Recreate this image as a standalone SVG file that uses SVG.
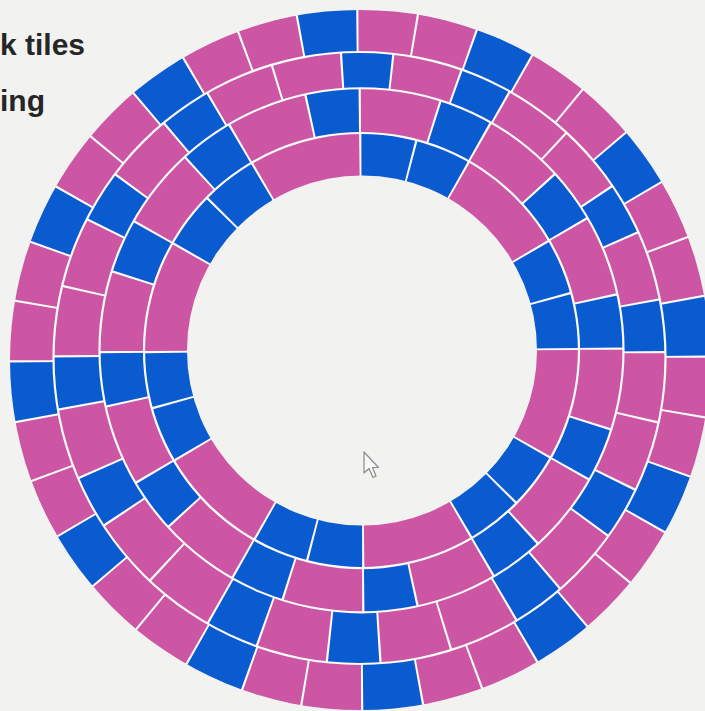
<svg xmlns="http://www.w3.org/2000/svg" width="705" height="711" viewBox="0 0 705 711">
<style>
.t{fill:none;stroke-width:60}
.p{stroke:#cc56a3}
.b{stroke:#0b5bd0}
.d4{stroke-dasharray:9.64 350.36}
.d3b{stroke-dasharray:9.58 350.42}
.d3p{stroke-dasharray:12.91 347.09}
.d2b{stroke-dasharray:11.5 348.5}
.d2p{stroke-dasharray:17.5 342.5}
.d1b{stroke-dasharray:14.4 345.6}
.d1p{stroke-dasharray:29.4 330.6}
.lbl{font-family:"Liberation Sans",Arial,sans-serif;font-weight:bold;font-size:30px;fill:#262626}
</style>
<defs>
<clipPath id="c1"><path clip-rule="evenodd" d="M145.1,350.5a216.4,216.4 0 1,0 432.8,0a216.4,216.4 0 1,0 -432.8,0Z M187,350.5a175,175 0 1,0 350,0a175,175 0 1,0 -350,0Z"/></clipPath>
<clipPath id="c2"><path clip-rule="evenodd" d="M100.6,350.3a260.9,260.9 0 1,0 521.8,0a260.9,260.9 0 1,0 -521.8,0Z M142.9,350.5a218.6,218.6 0 1,0 437.2,0a218.6,218.6 0 1,0 -437.2,0Z"/></clipPath>
<clipPath id="c3"><path clip-rule="evenodd" d="M54.6,358a304.9,304.9 0 1,0 609.8,0a304.9,304.9 0 1,0 -609.8,0Z M98.4,350.3a263.1,263.1 0 1,0 526.2,0a263.1,263.1 0 1,0 -526.2,0Z"/></clipPath>
<clipPath id="c4"><path clip-rule="evenodd" d="M10,360a350,350 0 1,0 700,0a350,350 0 1,0 -700,0Z M52.4,358a307.1,307.1 0 1,0 614.2,0a307.1,307.1 0 1,0 -614.2,0Z"/></clipPath>
</defs>
<rect width="705" height="711" fill="#f2f2f0"/>
<path id="grout" fill="#fbfbfb" fill-rule="evenodd" d="M10,360a350,350 0 1,0 700,0a350,350 0 1,0 -700,0Z M187,350.5a175,175 0 1,0 350,0a175,175 0 1,0 -350,0Z"/>

<g id="ring4" clip-path="url(#c4)">
<g transform="translate(359.75 359) rotate(-90.4)">
<circle class="t p d4" r="328" pathLength="360" stroke-dashoffset="-0.18"/>
<circle class="t p d4" r="328" pathLength="360" stroke-dashoffset="-10.18"/>
<circle class="t b d4" r="328" pathLength="360" stroke-dashoffset="-20.18"/>
<circle class="t p d4" r="328" pathLength="360" stroke-dashoffset="-30.18"/>
<circle class="t p d4" r="328" pathLength="360" stroke-dashoffset="-40.18"/>
<circle class="t b d4" r="328" pathLength="360" stroke-dashoffset="-50.18"/>
<circle class="t p d4" r="328" pathLength="360" stroke-dashoffset="-60.18"/>
<circle class="t p d4" r="328" pathLength="360" stroke-dashoffset="-70.18"/>
<circle class="t b d4" r="328" pathLength="360" stroke-dashoffset="-80.18"/>
<circle class="t p d4" r="328" pathLength="360" stroke-dashoffset="-90.18"/>
<circle class="t p d4" r="328" pathLength="360" stroke-dashoffset="-100.18"/>
<circle class="t b d4" r="328" pathLength="360" stroke-dashoffset="-110.18"/>
<circle class="t p d4" r="328" pathLength="360" stroke-dashoffset="-120.18"/>
<circle class="t p d4" r="328" pathLength="360" stroke-dashoffset="-130.18"/>
<circle class="t b d4" r="328" pathLength="360" stroke-dashoffset="-140.18"/>
<circle class="t p d4" r="328" pathLength="360" stroke-dashoffset="-150.18"/>
<circle class="t p d4" r="328" pathLength="360" stroke-dashoffset="-160.18"/>
<circle class="t b d4" r="328" pathLength="360" stroke-dashoffset="-170.18"/>
<circle class="t p d4" r="328" pathLength="360" stroke-dashoffset="-180.18"/>
<circle class="t p d4" r="328" pathLength="360" stroke-dashoffset="-190.18"/>
<circle class="t b d4" r="328" pathLength="360" stroke-dashoffset="-200.18"/>
<circle class="t p d4" r="328" pathLength="360" stroke-dashoffset="-210.18"/>
<circle class="t p d4" r="328" pathLength="360" stroke-dashoffset="-220.18"/>
<circle class="t b d4" r="328" pathLength="360" stroke-dashoffset="-230.18"/>
<circle class="t p d4" r="328" pathLength="360" stroke-dashoffset="-240.18"/>
<circle class="t p d4" r="328" pathLength="360" stroke-dashoffset="-250.18"/>
<circle class="t b d4" r="328" pathLength="360" stroke-dashoffset="-260.18"/>
<circle class="t p d4" r="328" pathLength="360" stroke-dashoffset="-270.18"/>
<circle class="t p d4" r="328" pathLength="360" stroke-dashoffset="-280.18"/>
<circle class="t b d4" r="328" pathLength="360" stroke-dashoffset="-290.18"/>
<circle class="t p d4" r="328" pathLength="360" stroke-dashoffset="-300.18"/>
<circle class="t p d4" r="328" pathLength="360" stroke-dashoffset="-310.18"/>
<circle class="t b d4" r="328" pathLength="360" stroke-dashoffset="-320.18"/>
<circle class="t p d4" r="328" pathLength="360" stroke-dashoffset="-330.18"/>
<circle class="t p d4" r="328" pathLength="360" stroke-dashoffset="-340.18"/>
<circle class="t b d4" r="328" pathLength="360" stroke-dashoffset="-350.18"/>
</g>
</g>

<g id="ring3" clip-path="url(#c3)">
<g transform="translate(360.5 354.2) rotate(-90.4)">
<circle class="t b d3b" r="284" pathLength="360" stroke-dashoffset="-356.88"/>
<circle class="t p d3p" r="284" pathLength="360" stroke-dashoffset="-6.88"/>
<circle class="t b d3b" r="284" pathLength="360" stroke-dashoffset="-20.21"/>
<circle class="t p d3p" r="284" pathLength="360" stroke-dashoffset="-30.21"/>
<circle class="t p d3p" r="284" pathLength="360" stroke-dashoffset="-43.54"/>
<circle class="t b d3b" r="284" pathLength="360" stroke-dashoffset="-56.88"/>
<circle class="t p d3p" r="284" pathLength="360" stroke-dashoffset="-66.88"/>
<circle class="t b d3b" r="284" pathLength="360" stroke-dashoffset="-80.21"/>
<circle class="t p d3p" r="284" pathLength="360" stroke-dashoffset="-90.21"/>
<circle class="t p d3p" r="284" pathLength="360" stroke-dashoffset="-103.54"/>
<circle class="t b d3b" r="284" pathLength="360" stroke-dashoffset="-116.88"/>
<circle class="t p d3p" r="284" pathLength="360" stroke-dashoffset="-126.88"/>
<circle class="t b d3b" r="284" pathLength="360" stroke-dashoffset="-140.21"/>
<circle class="t p d3p" r="284" pathLength="360" stroke-dashoffset="-150.21"/>
<circle class="t p d3p" r="284" pathLength="360" stroke-dashoffset="-163.54"/>
<circle class="t b d3b" r="284" pathLength="360" stroke-dashoffset="-176.88"/>
<circle class="t p d3p" r="284" pathLength="360" stroke-dashoffset="-186.88"/>
<circle class="t b d3b" r="284" pathLength="360" stroke-dashoffset="-200.21"/>
<circle class="t p d3p" r="284" pathLength="360" stroke-dashoffset="-210.21"/>
<circle class="t p d3p" r="284" pathLength="360" stroke-dashoffset="-223.54"/>
<circle class="t b d3b" r="284" pathLength="360" stroke-dashoffset="-236.88"/>
<circle class="t p d3p" r="284" pathLength="360" stroke-dashoffset="-246.88"/>
<circle class="t b d3b" r="284" pathLength="360" stroke-dashoffset="-260.21"/>
<circle class="t p d3p" r="284" pathLength="360" stroke-dashoffset="-270.21"/>
<circle class="t p d3p" r="284" pathLength="360" stroke-dashoffset="-283.54"/>
<circle class="t b d3b" r="284" pathLength="360" stroke-dashoffset="-296.88"/>
<circle class="t p d3p" r="284" pathLength="360" stroke-dashoffset="-306.88"/>
<circle class="t b d3b" r="284" pathLength="360" stroke-dashoffset="-320.21"/>
<circle class="t p d3p" r="284" pathLength="360" stroke-dashoffset="-330.21"/>
<circle class="t p d3p" r="284" pathLength="360" stroke-dashoffset="-343.54"/>
</g>
</g>

<g id="ring2" clip-path="url(#c2)">
<g transform="translate(361.5 350.4) rotate(-90.4)">
<circle class="t p d2p" r="239.75" pathLength="360" stroke-dashoffset="-0.25"/>
<circle class="t b d2b" r="239.75" pathLength="360" stroke-dashoffset="-18.25"/>
<circle class="t p d2p" r="239.75" pathLength="360" stroke-dashoffset="-30.25"/>
<circle class="t b d2b" r="239.75" pathLength="360" stroke-dashoffset="-48.25"/>
<circle class="t p d2p" r="239.75" pathLength="360" stroke-dashoffset="-60.25"/>
<circle class="t b d2b" r="239.75" pathLength="360" stroke-dashoffset="-78.25"/>
<circle class="t p d2p" r="239.75" pathLength="360" stroke-dashoffset="-90.25"/>
<circle class="t b d2b" r="239.75" pathLength="360" stroke-dashoffset="-108.25"/>
<circle class="t p d2p" r="239.75" pathLength="360" stroke-dashoffset="-120.25"/>
<circle class="t b d2b" r="239.75" pathLength="360" stroke-dashoffset="-138.25"/>
<circle class="t p d2p" r="239.75" pathLength="360" stroke-dashoffset="-150.25"/>
<circle class="t b d2b" r="239.75" pathLength="360" stroke-dashoffset="-168.25"/>
<circle class="t p d2p" r="239.75" pathLength="360" stroke-dashoffset="-180.25"/>
<circle class="t b d2b" r="239.75" pathLength="360" stroke-dashoffset="-198.25"/>
<circle class="t p d2p" r="239.75" pathLength="360" stroke-dashoffset="-210.25"/>
<circle class="t b d2b" r="239.75" pathLength="360" stroke-dashoffset="-228.25"/>
<circle class="t p d2p" r="239.75" pathLength="360" stroke-dashoffset="-240.25"/>
<circle class="t b d2b" r="239.75" pathLength="360" stroke-dashoffset="-258.25"/>
<circle class="t p d2p" r="239.75" pathLength="360" stroke-dashoffset="-270.25"/>
<circle class="t b d2b" r="239.75" pathLength="360" stroke-dashoffset="-288.25"/>
<circle class="t p d2p" r="239.75" pathLength="360" stroke-dashoffset="-300.25"/>
<circle class="t b d2b" r="239.75" pathLength="360" stroke-dashoffset="-318.25"/>
<circle class="t p d2p" r="239.75" pathLength="360" stroke-dashoffset="-330.25"/>
<circle class="t b d2b" r="239.75" pathLength="360" stroke-dashoffset="-348.25"/>
</g>
</g>

<g id="ring1" clip-path="url(#c1)">
<g transform="translate(361.75 350.5) rotate(-90.4)">
<circle class="t b d1b" r="196.25" pathLength="360" stroke-dashoffset="-0.3"/>
<circle class="t b d1b" r="196.25" pathLength="360" stroke-dashoffset="-15.3"/>
<circle class="t p d1p" r="196.25" pathLength="360" stroke-dashoffset="-30.3"/>
<circle class="t b d1b" r="196.25" pathLength="360" stroke-dashoffset="-60.3"/>
<circle class="t b d1b" r="196.25" pathLength="360" stroke-dashoffset="-75.3"/>
<circle class="t p d1p" r="196.25" pathLength="360" stroke-dashoffset="-90.3"/>
<circle class="t b d1b" r="196.25" pathLength="360" stroke-dashoffset="-120.3"/>
<circle class="t b d1b" r="196.25" pathLength="360" stroke-dashoffset="-135.3"/>
<circle class="t p d1p" r="196.25" pathLength="360" stroke-dashoffset="-150.3"/>
<circle class="t b d1b" r="196.25" pathLength="360" stroke-dashoffset="-180.3"/>
<circle class="t b d1b" r="196.25" pathLength="360" stroke-dashoffset="-195.3"/>
<circle class="t p d1p" r="196.25" pathLength="360" stroke-dashoffset="-210.3"/>
<circle class="t b d1b" r="196.25" pathLength="360" stroke-dashoffset="-240.3"/>
<circle class="t b d1b" r="196.25" pathLength="360" stroke-dashoffset="-255.3"/>
<circle class="t p d1p" r="196.25" pathLength="360" stroke-dashoffset="-270.3"/>
<circle class="t b d1b" r="196.25" pathLength="360" stroke-dashoffset="-300.3"/>
<circle class="t b d1b" r="196.25" pathLength="360" stroke-dashoffset="-315.3"/>
<circle class="t p d1p" r="196.25" pathLength="360" stroke-dashoffset="-330.3"/>
</g>
</g>

<g id="caption">
<text class="lbl" x="0" y="55">k tiles</text>
<text class="lbl" x="0" y="111">ing</text>
</g>

<g id="cursor" transform="translate(364 452)">
<path d="M0,0 L0,21 L5,16.5 L9,25.5 L12,24 L8.5,15.5 L14.5,15.5 Z" fill="#f7f7f7" stroke="#8a8a8a" stroke-width="1.2" stroke-linejoin="round"/>
</g>
</svg>
